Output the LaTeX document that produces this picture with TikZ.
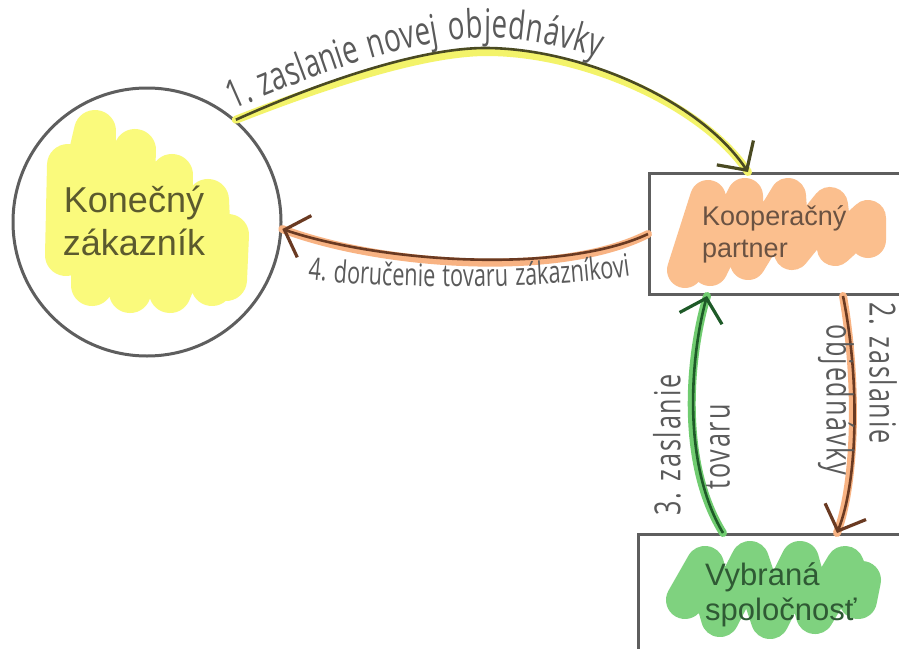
\documentclass[tikz,border=0pt]{standalone}
\usepackage{fontspec}
\setmainfont{Liberation Sans}
\newfontfamily\handfont[FakeStretch=0.7,LetterSpace=5]{Open Sans}
\usetikzlibrary{arrows.meta,calc,decorations.text}

\definecolor{framegray}{HTML}{5E5E5E}
\definecolor{handink}{HTML}{5A5A5A}
\definecolor{yellowfill}{HTML}{FAFA7C}
\definecolor{orangefill}{HTML}{FBBF8E}
\definecolor{greenfill}{HTML}{7FD27F}
\definecolor{olivetext}{HTML}{5B5A2E}
\definecolor{browntext}{HTML}{6A5242}
\definecolor{greentext}{HTML}{2F5A34}
\definecolor{oliveink}{HTML}{4A4A22}
\definecolor{brownink}{HTML}{6A3A22}
\definecolor{greenink}{HTML}{1E5A28}
\definecolor{yellowglow}{HTML}{F3F36A}
\definecolor{orangeglow}{HTML}{F8B383}
\definecolor{greenglow}{HTML}{70CC70}

\tikzset{
  scribble/.style={line width=#1, line cap=round, line join=round},
  frameline/.style={draw=framegray, line width=3pt, inner sep=0pt},
  flow/.style={line width=2.6pt, -{Straight Barb[length=21pt,width=44pt,line width=3.2pt]}},
  glow/.style={line width=8pt, line cap=round},
  boxtext/.style={inner sep=0pt, align=left},
  hand/.style={inner sep=0pt, text=handink, font=\handfont\fontsize{36}{36}\selectfont},
}

\begin{document}
\begin{tikzpicture}[x=1pt,y=-1pt]
\useasboundingbox (0,0) rectangle (899,648);
\clip (0,0) rectangle (899,648);
\fill[white] (0,0) rectangle (899,648);

% colour scribbles behind the node texts
\draw[scribble=42, yellowfill] (68,165) -- (66,255) -- (95,131) -- (92,285) -- (135,150) -- (130,292)
  -- (172,175) -- (170,292) -- (208,200) -- (212,285) -- (228,235) -- (226,280);
\draw[scribble=36, orangefill] (685,270) -- (708,198) -- (710,268) -- (745,196) -- (748,262)
  -- (788,196) -- (792,252) -- (830,205) -- (835,248) -- (868,218) -- (868,240);
\draw[scribble=38, greenfill] (685,600) -- (705,565) -- (720,618) -- (750,560) -- (770,620)
  -- (800,560) -- (815,615) -- (845,565) -- (858,600) -- (862,580);

% the three participants
\node[frameline, circle, minimum size=268pt] (cust) at (147,222) {};
\node[frameline, rectangle, anchor=north west, minimum width=330pt, minimum height=121pt] (coop) at (648,172) {};
\node[frameline, rectangle, anchor=north west, minimum width=330pt, minimum height=150pt] (vyb) at (637,533) {};

% texts, anchored at the baseline of their last line
\node[boxtext, align=center, anchor=base, text=olivetext, font=\fontsize{36}{43}\selectfont] (custtext) at (134,255) {Konečný\\zákazník};
\node[boxtext, anchor=base west, text=browntext, font=\fontsize{27}{32}\selectfont] (cooptext) at (702,257) {Kooperačný\\partner};
\node[boxtext, anchor=base west, text=greentext, font=\fontsize{31}{35}\selectfont] (vybtext) at (705,620) {Vybraná\\spoločnosť};

% connector end points on the box borders
\coordinate (a1end) at ($(coop.north west)+(100,0)$);
\coordinate (a2start) at ($(coop.south west)+(195,0)$);
\coordinate (a2end) at ($(vyb.north west)+(200,0)$);
\coordinate (a3start) at ($(vyb.north west)+(86,0)$);
\coordinate (a3end) at ($(coop.south west)+(59,0)$);

% 1: customer -> partner
\draw[glow, yellowglow, shift={(2,4)}] (cust.49) .. controls (320,82) and (420,48) .. (485,48)
  .. controls (580,48) and (700,100) .. (a1end);
\draw[flow, oliveink] (cust.49) .. controls (320,82) and (420,48) .. (485,48)
  .. controls (580,48) and (700,100) .. (a1end);
\path[decorate, decoration={text along path, raise=10pt, text align={left indent=2pt},
  text={|\handfont\fontsize{39.5}{39.5}\selectfont\color{handink}|1. zaslanie novej objednávky}}]
  (cust.49) .. controls (320,82) and (420,48) .. (485,48) .. controls (580,48) and (700,100) .. (a1end);

% 4: partner -> customer
\draw[glow, orangeglow, shift={(0,4)}] (coop.west) .. controls (560,275) and (380,262) .. (cust.-3);
\draw[flow, brownink] (coop.west) .. controls (560,275) and (380,262) .. (cust.-3);
\coordinate (t4a) at (302,279);
\coordinate (t4b) at (645,274);
\path[decorate, decoration={text along path, text align={left indent=6pt},
  text={|\handfont\fontsize{31}{31}\selectfont\color{handink}|4. doručenie tovaru zákazníkovi}}]
  (t4a) .. controls (400,290) and (540,290) .. (t4b);

% 2: partner -> company
\draw[glow, orangeglow, shift={(-2,2)}] (a2start) .. controls (860,380) and (858,480) .. (a2end);
\draw[flow, brownink] (a2start) .. controls (860,380) and (858,480) .. (a2end);
\node[hand, rotate=-90] (l2a) at (883,373) {2. zaslanie};
\node[hand, rotate=-90] (l2b) at (836,400) {objednávky};

% 3: company -> partner
\draw[glow, greenglow, shift={(-2,1)}] (a3start) .. controls (680,460) and (692,350) .. (a3end);
\draw[flow, greenink] (a3start) .. controls (680,460) and (692,350) .. (a3end);
\node[hand, rotate=90] (l3a) at (667,445) {3. zaslanie};
\node[hand, rotate=90] (l3b) at (718,447) {tovaru};
\end{tikzpicture}
\end{document}
